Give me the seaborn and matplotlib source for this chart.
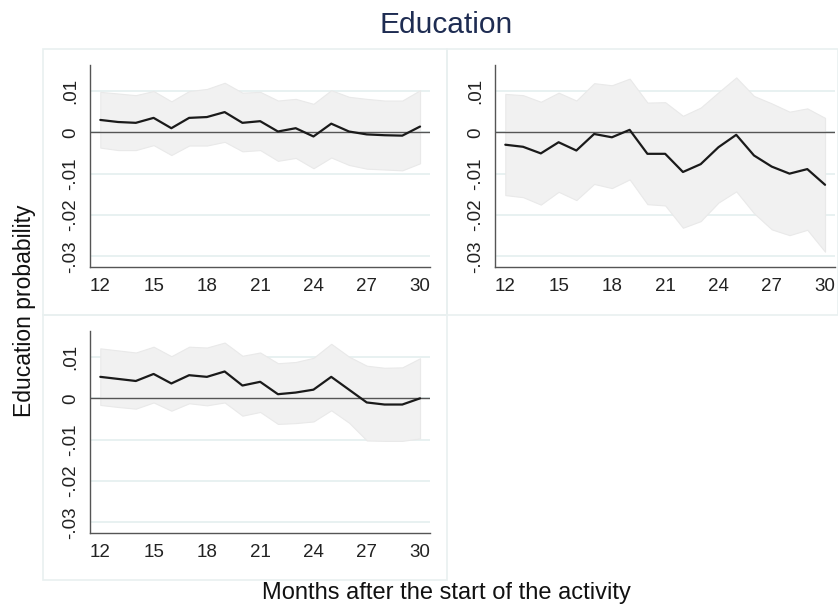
import numpy as np
import pandas as pd
import matplotlib
matplotlib.use("Agg")
import matplotlib.pyplot as plt
import seaborn as sns
from matplotlib.patches import Rectangle

# Data

months = list(range(12, 31))

p1_est = [0.0030, 0.0025, 0.0023, 0.0035, 0.0010, 0.0035, 0.0037, 0.0049, 0.0023, 0.0027,
          0.0002, 0.0010, -0.0010, 0.0021, 0.0002, -0.0005, -0.0007, -0.0008, 0.0014]
p1_hi = [0.0098, 0.0094, 0.0090, 0.0100, 0.0075, 0.0100, 0.0105, 0.0120, 0.0096, 0.0098,
         0.0077, 0.0081, 0.0069, 0.0102, 0.0086, 0.0081, 0.0077, 0.0077, 0.0102]
p1_lo = [-0.0037, -0.0043, -0.0043, -0.0031, -0.0055, -0.0032, -0.0032, -0.0023, -0.0046, -0.0043,
         -0.0069, -0.0062, -0.0087, -0.0061, -0.0079, -0.0088, -0.0090, -0.0092, -0.0075]

p2_est = [-0.0030, -0.0035, -0.0051, -0.0024, -0.0044, -0.0004, -0.0012, 0.0006, -0.0052, -0.0052,
          -0.0096, -0.0077, -0.0036, -0.0006, -0.0056, -0.0083, -0.0100, -0.0089, -0.0127]
p2_hi = [0.0093, 0.0090, 0.0074, 0.0096, 0.0077, 0.0119, 0.0114, 0.0130, 0.0072, 0.0073,
         0.0040, 0.0060, 0.0097, 0.0133, 0.0088, 0.0070, 0.0050, 0.0058, 0.0035]
p2_lo = [-0.0152, -0.0157, -0.0175, -0.0144, -0.0164, -0.0125, -0.0135, -0.0114, -0.0174, -0.0177,
         -0.0231, -0.0215, -0.0170, -0.0143, -0.0196, -0.0235, -0.0249, -0.0236, -0.0289]

p3_est = [0.0052, 0.0047, 0.0042, 0.0059, 0.0036, 0.0056, 0.0052, 0.0065, 0.0031, 0.0040,
          0.0010, 0.0014, 0.0021, 0.0052, 0.0021, -0.0010, -0.0015, -0.0015, 0.0000]
p3_hi = [0.0121, 0.0116, 0.0111, 0.0125, 0.0102, 0.0125, 0.0123, 0.0135, 0.0103, 0.0111,
         0.0085, 0.0088, 0.0098, 0.0132, 0.0101, 0.0079, 0.0074, 0.0075, 0.0097]
p3_lo = [-0.0016, -0.0021, -0.0025, -0.0010, -0.0030, -0.0012, -0.0017, -0.0010, -0.0042, -0.0033,
         -0.0062, -0.0060, -0.0056, -0.0029, -0.0059, -0.0102, -0.0103, -0.0103, -0.0097]

x_ticks = [12, 15, 18, 21, 24, 27, 30]
y_ticks = [0.01, 0.0, -0.01, -0.02, -0.03]
y_tick_labels = [".01", "0", "-.01", "-.02", "-.03"]

title = "Education"
y_label = "Education probability"
x_label = "Months after the start of the activity"

# Style

sns.set_style("white")
plt.rcParams["font.family"] = ["Liberation Sans", "DejaVu Sans"]

W, H = 838, 608
fig = plt.figure(figsize=(W / 100, H / 100), dpi=100)


def px_box(left, top, right, bottom):
    return [left / W, 1 - bottom / H, (right - left) / W, (bottom - top) / H]


# Panel frames (faint)
for (l, t, r, b) in [(43, 49, 447, 315), (447, 49, 838, 315), (43, 315, 447, 580)]:
    fig.add_artist(Rectangle((l / W, 1 - b / H), (r - l) / W, (b - t) / H,
                             transform=fig.transFigure, fill=False,
                             edgecolor="#e9f0f0", linewidth=1.2))

panels = [
    (px_box(90, 65, 430, 267), p1_est, p1_lo, p1_hi),
    (px_box(495, 65, 835, 267), p2_est, p2_lo, p2_hi),
    (px_box(90, 331, 430, 533), p3_est, p3_lo, p3_hi),
]

for box, est, lo, hi in panels:
    ax = fig.add_axes(box)
    df = pd.DataFrame({"month": months, "est": est, "lo": lo, "hi": hi})

    for yt in y_ticks:
        ax.axhline(yt, color="#e8f1f1", linewidth=1.4, zorder=0)

    ax.fill_between(df["month"], df["lo"], df["hi"], color="#f1f1f1",
                    edgecolor="#e9e9e9", linewidth=0.8, zorder=1)
    ax.axhline(0, color="#555555", linewidth=1.0, zorder=2)
    sns.lineplot(data=df, x="month", y="est", ax=ax, color="#1a1a1a",
                 linewidth=1.6, zorder=3)

    ax.set_xlim(11.42, 30.56)
    ax.set_ylim(-0.0326, 0.0163)
    ax.set_xticks(x_ticks)
    ax.set_xticklabels([str(v) for v in x_ticks])
    ax.set_yticks(y_ticks)
    ax.set_yticklabels(y_tick_labels, rotation=90, va="center")
    ax.set_xlabel("")
    ax.set_ylabel("")

    for side in ["top", "right"]:
        ax.spines[side].set_visible(False)
    for side in ["left", "bottom"]:
        ax.spines[side].set_color("#555555")
        ax.spines[side].set_linewidth(1.0)

    ax.tick_params(axis="both", direction="out", length=5, width=1.0,
                   color="#555555", labelsize=13.5, labelcolor="#222222", pad=3)
    ax.patch.set_alpha(0)

fig.text(446 / W, 1 - 25 / H, title, ha="center", va="center",
         fontsize=21.5, color="#1e2c52")
fig.text(24 / W, 1 - 311 / H, y_label, ha="center", va="center",
         rotation=90, fontsize=16.5, color="#111111")
fig.text(446 / W, 1 - 593 / H, x_label, ha="center", va="center",
         fontsize=17, color="#111111")

fig.savefig("out.png", dpi=100, facecolor="white")
